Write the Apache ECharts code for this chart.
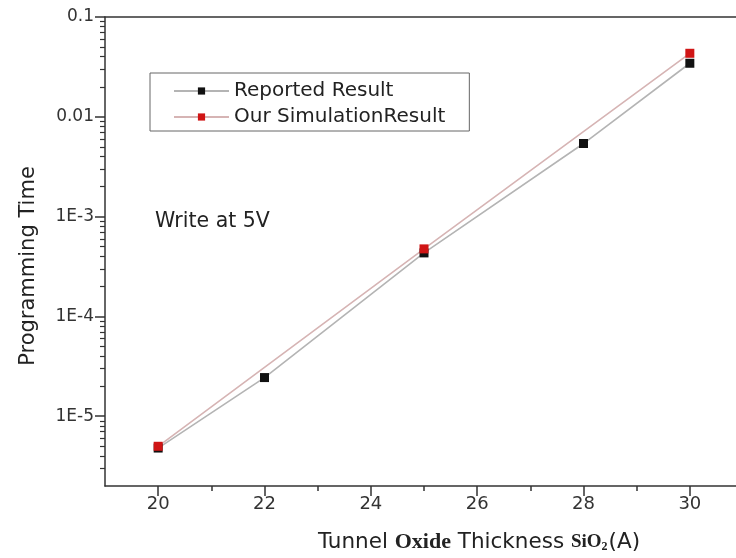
<!DOCTYPE html>
<html><head><meta charset="utf-8">
<script src="https://cdn.jsdelivr.net/npm/echarts@6/dist/echarts.min.js"></script>
<style>html,body{margin:0;padding:0;background:#fff}#c{width:736px;height:558px}</style>
</head><body><div id="c"></div>
<script>
// ---- data ----
const reportedX = [20, 22, 25, 28, 30];
const reportedY = [4.8e-6, 2.44e-5, 4.33e-4, 5.4e-3, 0.0344];
const simulationX = [20, 25, 30];
const simulationY = [5.0e-6, 4.75e-4, 0.0433];
const seriesNames = ['Reported Result', 'Our SimulationResult'];
const xTickValues = [20, 22, 24, 26, 28, 30];
const xTickLabels = ['20', '22', '24', '26', '28', '30'];
const xMinorTickValues = [21, 23, 25, 27, 29];
const yTickValues = [1e-5, 1e-4, 1e-3, 0.01, 0.1];
const yTickLabels = ['1E-5', '1E-4', '1E-3', '0.01', '0.1'];
const annotation = 'Write at 5V';
const yAxisTitle = 'Programming Time';

// minor log ticks (2..9 in each decade)
const yMinorTickValues = [];
for (let d = -6; d <= -2; d++) {
  for (let m = 2; m <= 9; m++) {
    const v = +(m * Math.pow(10, d)).toPrecision(6);
    if (v > 2e-6 && v < 0.1) yMinorTickValues.push(v);
  }
}

const FONT = 'DejaVu Sans';
const AX = '#333';
const zip = (xs, ys) => xs.map((x, i) => [x, ys[i]]);

const chart = echarts.init(document.getElementById('c'), null, {renderer: 'canvas'});
chart.setOption({
  animation: false,
  backgroundColor: '#fff',
  grid: {left: 105, top: 17, width: 638, height: 469, containLabel: false, outerBoundsMode: 'none'},
  legend: {
    left: 150, top: 73, orient: 'vertical',
    padding: [8, 24, 4, 23], itemGap: 6, itemWidth: 55, itemHeight: 9,
    borderColor: '#666', borderWidth: 1,
    textStyle: {fontFamily: FONT, fontSize: 20, color: '#222'},
    data: seriesNames
  },
  xAxis: [
    {
      type: 'value', min: 19, max: 31, position: 'bottom',
      axisLine: {onZero: false, lineStyle: {color: AX, width: 1.5}},
      axisTick: {customValues: xTickValues, length: 10, lineStyle: {color: AX, width: 1.5}},
      axisLabel: {customValues: xTickValues, margin: 9, fontFamily: FONT, fontSize: 18, color: '#333',
        formatter: v => xTickLabels[xTickValues.indexOf(v)]},
      splitLine: {show: false},
      name: '{a|Tunnel }{b|Oxide}{a| Thickness }{c|SiO}{s|2}{a|(A)}',
      nameLocation: 'middle', nameGap: 45,
      nameTextStyle: {
        padding: [0, 0, 0, 110],
        rich: {
          a: {fontFamily: FONT, fontSize: 21.5, color: '#222'},
          b: {fontFamily: 'Liberation Serif', fontWeight: 'bold', fontSize: 22, color: '#222'},
          c: {fontFamily: 'Liberation Serif', fontWeight: 'bold', fontSize: 19, color: '#222'},
          s: {fontFamily: 'Liberation Serif', fontWeight: 'bold', fontSize: 12, color: '#222', verticalAlign: 'bottom', padding: [8, 1, 0, 0]}
        }
      }
    },
    {
      type: 'value', min: 19, max: 31, position: 'bottom',
      axisLine: {show: false, onZero: false},
      axisTick: {customValues: xMinorTickValues, length: 5, lineStyle: {color: AX, width: 1.5}},
      axisLabel: {show: false}, splitLine: {show: false}
    },
    {
      type: 'value', min: 19, max: 31, position: 'top',
      axisLine: {show: true, onZero: false, lineStyle: {color: AX, width: 1.5}},
      axisTick: {show: false}, axisLabel: {show: false}, splitLine: {show: false}
    }
  ],
  yAxis: [
    {
      type: 'log', logBase: 10, min: 2e-6, max: 0.1, position: 'left',
      axisLine: {show: true, onZero: false, lineStyle: {color: AX, width: 1.5}},
      axisTick: {customValues: yTickValues, length: 10, lineStyle: {color: AX, width: 1.5}},
      axisLabel: {customValues: yTickValues, margin: 11, fontFamily: FONT, fontSize: 17, color: '#333',
        formatter: v => {
          let best = 0;
          yTickValues.forEach((t, i) => { if (Math.abs(Math.log10(t) - Math.log10(v)) < Math.abs(Math.log10(yTickValues[best]) - Math.log10(v))) best = i; });
          return yTickLabels[best];
        }},
      splitLine: {show: false},
      name: yAxisTitle, nameLocation: 'middle', nameGap: 66,
      nameTextStyle: {fontFamily: FONT, fontSize: 21, color: '#222', padding: [0, 29, 0, 0]}
    },
    {
      type: 'log', logBase: 10, min: 2e-6, max: 0.1, position: 'left',
      axisLine: {show: false, onZero: false},
      axisTick: {customValues: yMinorTickValues, length: 5, lineStyle: {color: AX, width: 1.2}},
      axisLabel: {show: false}, splitLine: {show: false}
    }
  ],
  graphic: [{
    type: 'text', left: 155, top: 211,
    style: {text: annotation, fontFamily: FONT, fontSize: 20.5, fill: '#222'}
  }],
  series: [
    {
      name: seriesNames[0], type: 'line', xAxisIndex: 0, yAxisIndex: 0,
      data: zip(reportedX, reportedY),
      symbol: 'rect', symbolSize: 9,
      itemStyle: {color: '#111'},
      lineStyle: {color: '#b4b4b4', width: 1.6}
    },
    {
      name: seriesNames[1], type: 'line', xAxisIndex: 0, yAxisIndex: 0,
      data: zip(simulationX, simulationY),
      symbol: 'rect', symbolSize: 9,
      itemStyle: {color: '#d01515'},
      lineStyle: {color: '#d6b4b4', width: 1.6}
    }
  ]
});
</script>
</body></html>
